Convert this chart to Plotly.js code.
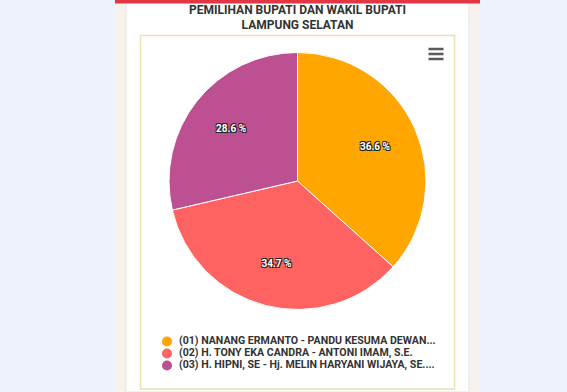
<!DOCTYPE html>
<html>
<head>
<meta charset="utf-8">
<script src="https://cdn.plot.ly/plotly-3.0.1.min.js"></script>
<style>
html,body{margin:0;padding:0;background:#eef3fb;}
#chart{width:567px;height:392px;}
</style>
</head>
<body>
<div id="chart"></div>
<script>
const candidates = [
  "(01) NANANG ERMANTO - PANDU KESUMA DEWAN...",
  "(02) H. TONY EKA CANDRA - ANTONI IMAM, S.E.",
  "(03) H. HIPNI, SE - Hj. MELIN HARYANI WIJAYA, SE...."
];
const shares = [36.6, 34.7, 28.6];
const colors = ["#ffa600", "#ff6361", "#bc5090"];
const titleText = "PEMILIHAN BUPATI DAN WAKIL BUPATI<br>LAMPUNG SELATAN";

const W = 567, H = 392;
const px = v => v / W;
const py = v => 1 - v / H;
const pieDomain = {x: [px(169), px(426)], y: [py(309.5), py(52.5)]};

const pie = {
  type: "pie",
  labels: candidates,
  values: shares,
  sort: false,
  direction: "clockwise",
  rotation: 0,
  marker: {colors: colors, line: {color: "#ffffff", width: 1}},
  textinfo: "none",
  hoverinfo: "label+percent",
  showlegend: false,
  domain: pieDomain
};

// transparent overlay pie used only to carry the slice labels further out
const pieLabels = {
  type: "pie",
  labels: candidates,
  values: shares,
  sort: false,
  direction: "clockwise",
  rotation: 0,
  hole: 0.32,
  marker: {colors: candidates.map(() => "rgba(0,0,0,0)"), line: {width: 0}},
  texttemplate: "%{value:.1f} %",
  textposition: "inside",
  insidetextorientation: "horizontal",
  textfont: {family: "Roboto, sans-serif", size: 10, color: "#ffffff", weight: "bold",
             shadow: "-1px -1px 0 #222, 1px -1px 0 #222, -1px 1px 0 #222, 1px 1px 0 #222"},
  hoverinfo: "skip",
  showlegend: false,
  domain: pieDomain
};

const legendMarkers = {
  type: "scatter",
  mode: "markers",
  x: candidates.map(() => 0),
  y: candidates,
  marker: {color: colors, size: 10, symbol: "circle"},
  cliponaxis: false,
  hoverinfo: "skip",
  showlegend: false
};

const legendText = {
  type: "scatter",
  mode: "markers+text",
  x: candidates.map(() => 0),
  y: candidates,
  text: candidates,
  textposition: "middle right",
  textfont: {family: "Roboto, sans-serif", size: 10.6, color: "#333333", weight: "bold"},
  marker: {color: "rgba(0,0,0,0)", size: 17.5},
  cliponaxis: false,
  hoverinfo: "skip",
  showlegend: false
};

const layout = {
  width: W, height: H,
  margin: {l: 0, r: 0, t: 0, b: 0},
  paper_bgcolor: "#eef3fb",
  plot_bgcolor: "rgba(0,0,0,0)",
  showlegend: false,
  title: {
    text: titleText,
    font: {family: "Roboto, sans-serif", size: 12, color: "#333333", weight: "bold"},
    x: px(297.5), xanchor: "center",
    y: 1 - 13.5 / H, yanchor: "middle", yref: "container"
  },
  xaxis: {visible: false, domain: [px(167), px(460)], range: [0, 1], fixedrange: true},
  yaxis: {visible: false, domain: [py(365.5), py(341.5)], type: "category",
          autorange: false, range: [2, 0], fixedrange: true},
  shapes: [
    {type: "rect", xref: "paper", yref: "paper", x0: px(115), x1: px(480), y0: 0, y1: 1,
     fillcolor: "#f7f2ee", line: {width: 0}, layer: "below"},
    {type: "rect", xref: "paper", yref: "paper", x0: px(126), x1: px(469), y0: 0, y1: 1,
     fillcolor: "#ffffff", line: {color: "#e7e4e2", width: 1}, layer: "below"},
    {type: "rect", xref: "paper", yref: "paper", x0: px(115), x1: px(480), y0: py(3.5), y1: 1,
     fillcolor: "#e23645", line: {width: 0}, layer: "below"},
    {type: "rect", xref: "paper", yref: "paper", x0: px(140.5), x1: px(454.5), y0: py(389), y1: py(35.5),
     fillcolor: "rgba(0,0,0,0)", line: {color: "#ece0ad", width: 1.5}, layer: "below"},
    {type: "line", xref: "paper", yref: "paper", x0: px(428.5), x1: px(443.5), y0: py(49), y1: py(49),
     line: {color: "#5a5a5a", width: 2.5}},
    {type: "line", xref: "paper", yref: "paper", x0: px(428.5), x1: px(443.5), y0: py(54), y1: py(54),
     line: {color: "#5a5a5a", width: 2.5}},
    {type: "line", xref: "paper", yref: "paper", x0: px(428.5), x1: px(443.5), y0: py(59), y1: py(59),
     line: {color: "#5a5a5a", width: 2.5}}
  ]
};

Plotly.newPlot("chart", [pie, pieLabels, legendMarkers, legendText], layout, {displayModeBar: false});
</script>
</body>
</html>
